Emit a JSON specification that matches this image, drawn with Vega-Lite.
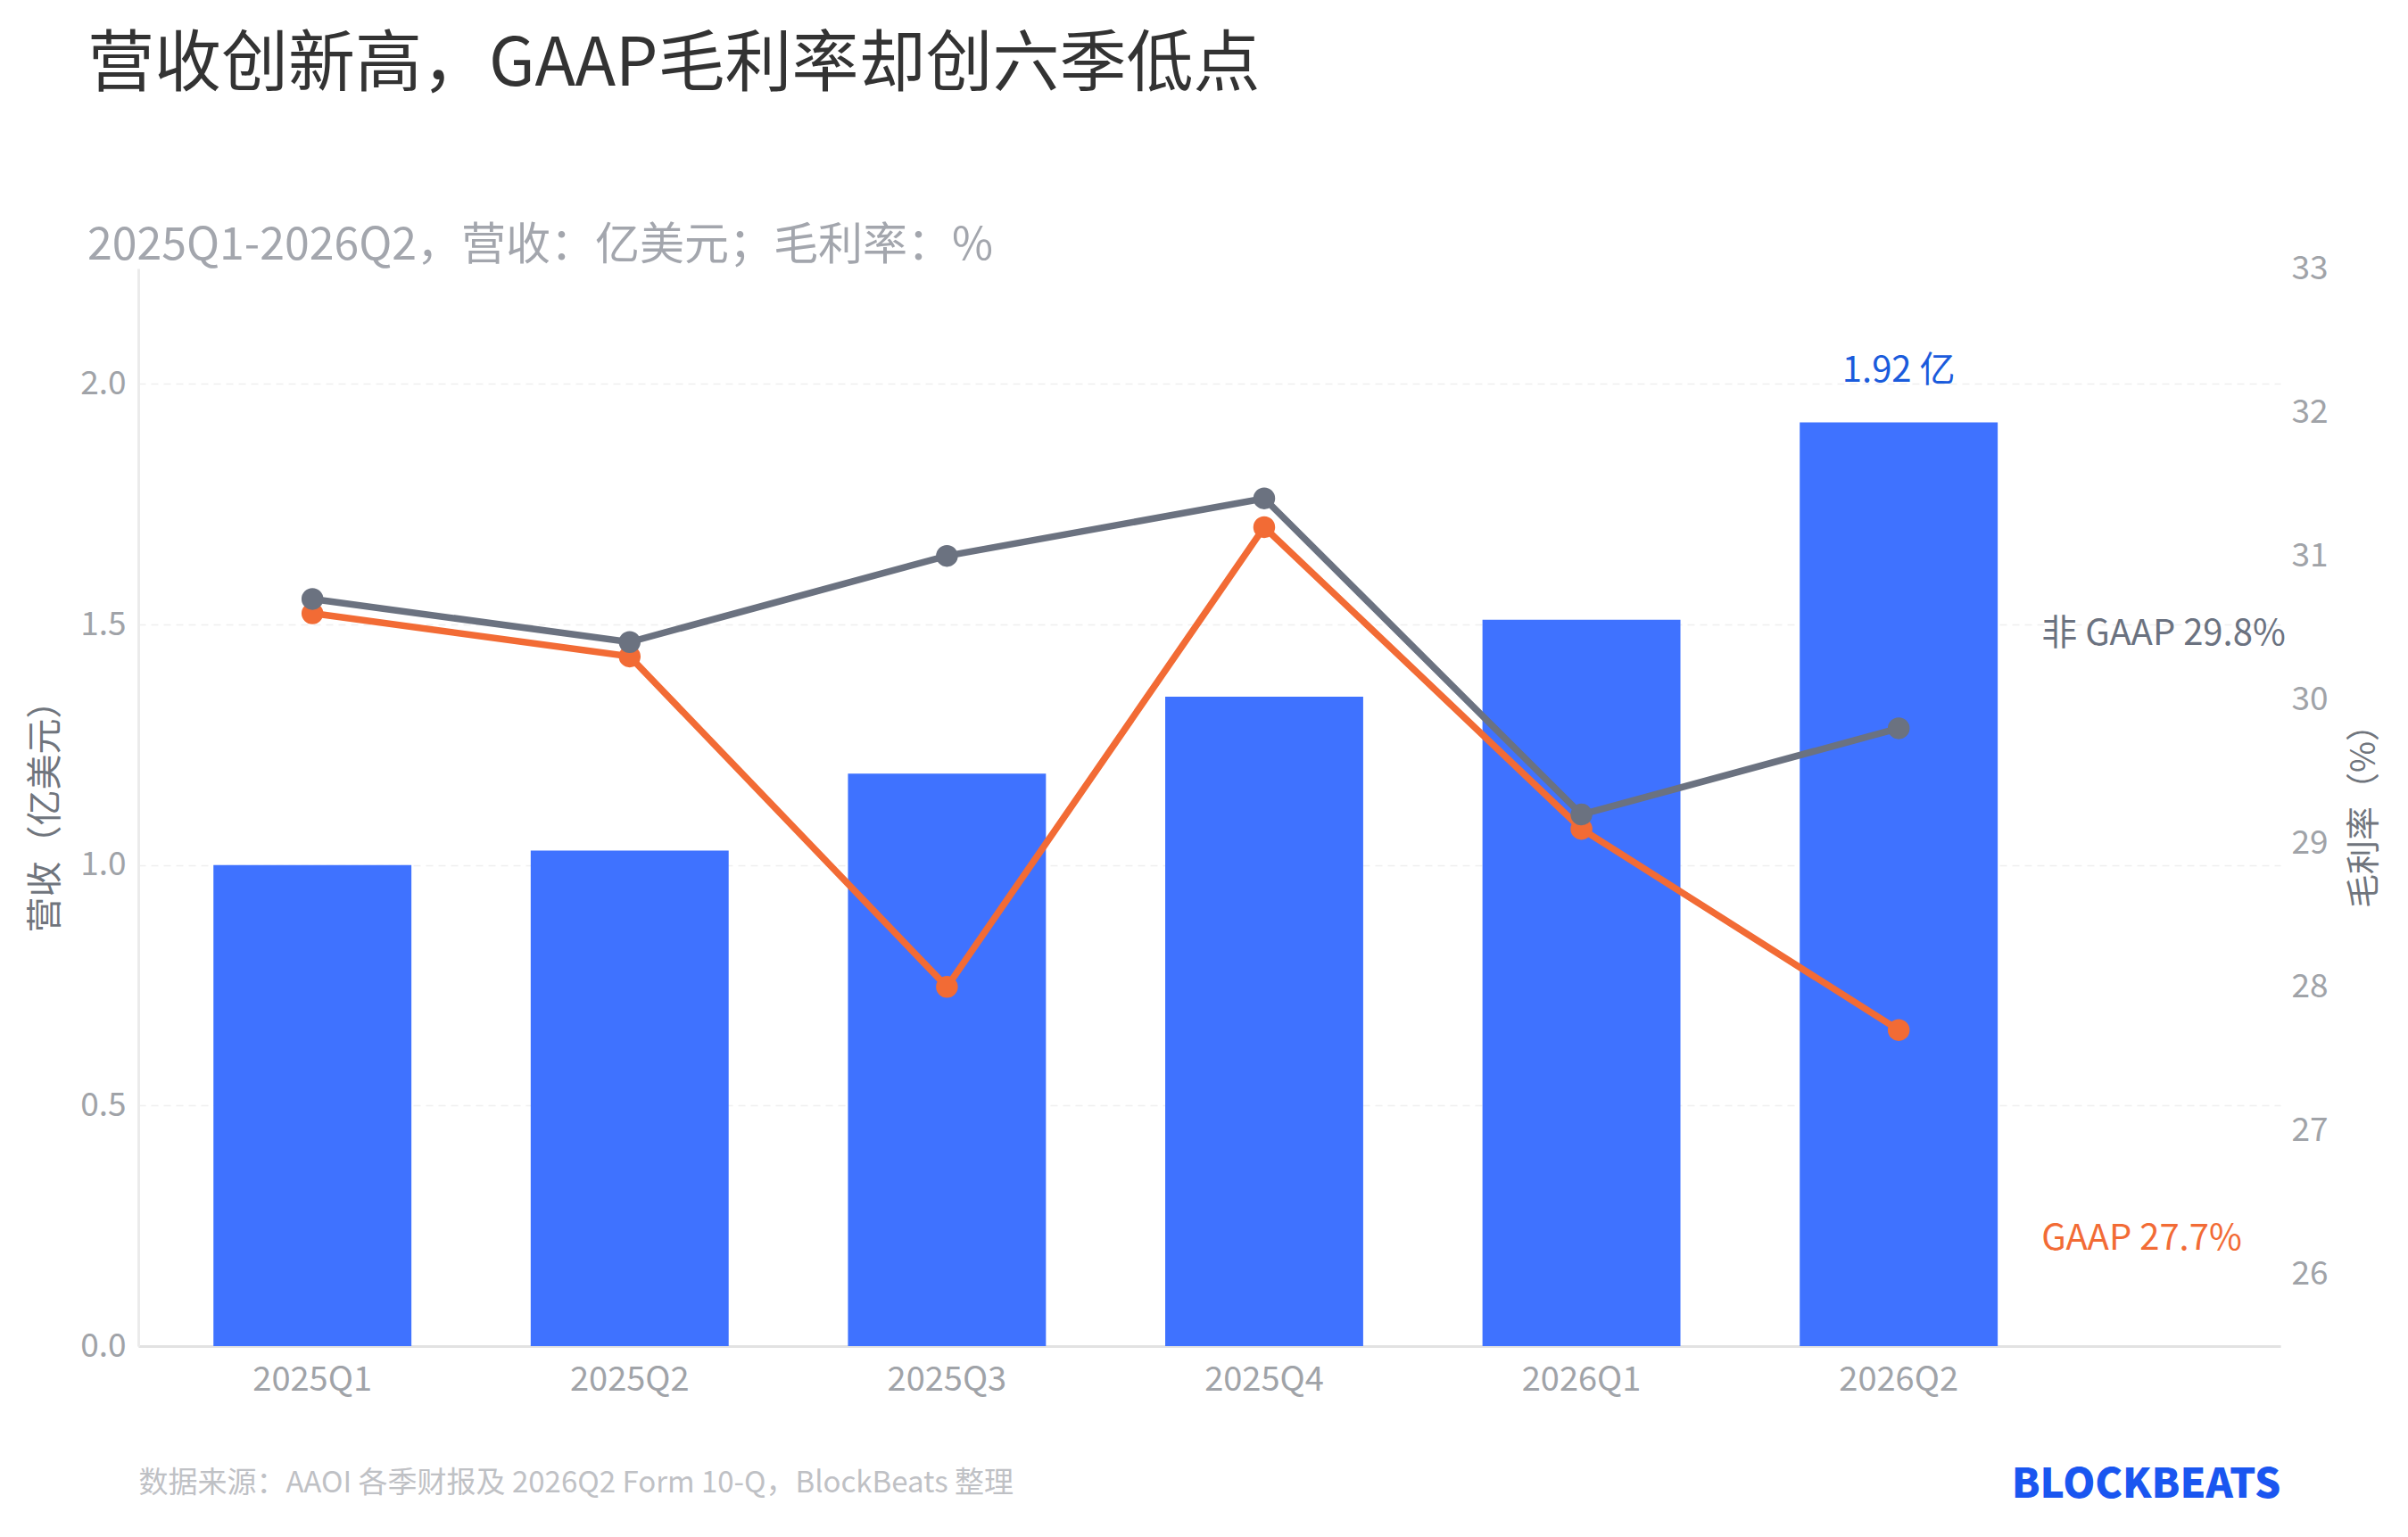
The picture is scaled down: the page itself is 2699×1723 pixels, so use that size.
{
  "$schema": "https://vega.github.io/schema/vega-lite/v6.json",
  "width": 2401,
  "height": 1208,
  "autosize": {"type": "none"},
  "padding": {"left": 155, "top": 301, "right": 143, "bottom": 214},
  "background": "#ffffff",
  "config": {
    "view": {"stroke": null},
    "font": "Noto Sans CJK SC",
    "axis": {"labelFont": "Noto Sans CJK SC", "titleFont": "Noto Sans CJK SC"}
  },
  "title": {
    "text": "营收创新高，GAAP毛利率却创六季低点",
    "subtitle": "2025Q1-2026Q2，营收：亿美元；毛利率：%",
    "anchor": "start",
    "frame": "group",
    "dx": -57,
    "offset": -20,
    "fontSize": 75,
    "fontWeight": "normal",
    "color": "#333333",
    "subtitleFontSize": 50,
    "subtitleColor": "#a3a6ad",
    "subtitlePadding": 139,
    "font": "Noto Sans CJK SC",
    "subtitleFont": "Noto Sans CJK SC"
  },
  "datasets": {
    "revenue": [
      {"quarter": "2025Q1", "revenue": 1.00},
      {"quarter": "2025Q2", "revenue": 1.03},
      {"quarter": "2025Q3", "revenue": 1.19},
      {"quarter": "2025Q4", "revenue": 1.35},
      {"quarter": "2026Q1", "revenue": 1.51},
      {"quarter": "2026Q2", "revenue": 1.92}
    ],
    "barLabels": [
      {"quarter": "2026Q2", "revenue": 1.92, "label": "1.92 亿"}
    ],
    "margins": [
      {"quarter": "2025Q1", "series": "GAAP", "margin": 30.6},
      {"quarter": "2025Q2", "series": "GAAP", "margin": 30.3},
      {"quarter": "2025Q3", "series": "GAAP", "margin": 28.0},
      {"quarter": "2025Q4", "series": "GAAP", "margin": 31.2},
      {"quarter": "2026Q1", "series": "GAAP", "margin": 29.1},
      {"quarter": "2026Q2", "series": "GAAP", "margin": 27.7},
      {"quarter": "2025Q1", "series": "非 GAAP", "margin": 30.7},
      {"quarter": "2025Q2", "series": "非 GAAP", "margin": 30.4},
      {"quarter": "2025Q3", "series": "非 GAAP", "margin": 31.0},
      {"quarter": "2025Q4", "series": "非 GAAP", "margin": 31.4},
      {"quarter": "2026Q1", "series": "非 GAAP", "margin": 29.2},
      {"quarter": "2026Q2", "series": "非 GAAP", "margin": 29.8}
    ],
    "lineLabels": [
      {"quarter": "2026Q2", "series": "非 GAAP", "margin": 29.8, "label": "非 GAAP 29.8%"},
      {"quarter": "2026Q2", "series": "GAAP", "margin": 27.7, "label": "GAAP 27.7%"}
    ]
  },
  "layer": [
    {
      "layer": [
        {
          "data": {"name": "revenue"},
          "mark": {"type": "bar", "color": "#3f72ff"},
          "encoding": {
            "x": {
              "field": "quarter",
              "type": "nominal",
              "sort": null,
              "scale": {"paddingInner": 0.376, "paddingOuter": 0.564, "align": 0.21},
              "axis": {
                "labelAngle": 0,
                "labelFontSize": 38,
                "labelColor": "#a0a3a8",
                "labelPadding": 19,
                "ticks": false,
                "domain": true,
                "domainColor": "#e2e2e2",
                "domainWidth": 3,
                "grid": false,
                "title": "数据来源：AAOI 各季财报及 2026Q2 Form 10-Q，BlockBeats 整理",
                "titleAnchor": "start",
                "titleAlign": "left",
                "titleFontSize": 33,
                "titleFontWeight": "normal",
                "titleColor": "#bfc1c5",
                "titlePadding": 80
              }
            },
            "y": {
              "field": "revenue",
              "type": "quantitative",
              "scale": {"domain": [0, 2.24], "nice": false, "zero": true},
              "axis": {
                "values": [0, 0.5, 1, 1.5, 2],
                "format": ".1f",
                "labelFontSize": 37,
                "labelColor": "#a0a3a8",
                "labelPadding": 14,
                "ticks": false,
                "domain": true,
                "domainColor": "#ebebeb",
                "domainWidth": 3,
                "grid": true,
                "gridColor": "#efefef",
                "gridDash": [8, 6],
                "gridWidth": 1.5,
                "title": "营收（亿美元）",
                "titleFontSize": 40,
                "titleFontWeight": "normal",
                "titleColor": "#70757d",
                "titlePadding": 18
              }
            }
          }
        },
        {
          "data": {"name": "barLabels"},
          "mark": {"type": "text", "color": "#1a5bdc", "fontSize": 40, "baseline": "alphabetic", "align": "center", "dy": -46},
          "encoding": {
            "x": {"field": "quarter", "type": "nominal", "sort": null},
            "y": {"field": "revenue", "type": "quantitative"},
            "text": {"field": "label"}
          }
        }
      ]
    },
    {
      "layer": [
        {
          "data": {"name": "margins"},
          "mark": {"type": "line", "strokeWidth": 7.5, "point": {"filled": true, "size": 600, "opacity": 1}},
          "encoding": {
            "x": {
              "field": "quarter",
              "type": "nominal",
              "sort": null,
              "axis": {
                "orient": "bottom",
                "labels": false,
                "ticks": false,
                "domain": false,
                "grid": false,
                "title": "BLOCKBEATS",
                "titleAnchor": "end",
                "titleAlign": "right",
                "titleFontSize": 46,
                "titleFontWeight": 900,
                "titleColor": "#1a56f0",
                "titlePadding": 133
              }
            },
            "y": {
              "field": "margin",
              "type": "quantitative",
              "scale": {"domain": [25.5, 33], "nice": false, "zero": false},
              "axis": {
                "orient": "right",
                "values": [26, 27, 28, 29, 30, 31, 32, 33],
                "format": "d",
                "labelFontSize": 37,
                "labelColor": "#a0a3a8",
                "labelPadding": 12,
                "ticks": false,
                "domain": false,
                "grid": false,
                "title": "毛利率（%）",
                "titleAngle": -90,
                "titleBaseline": "top",
                "titleFontSize": 38,
                "titleFontWeight": "normal",
                "titleColor": "#70757d",
                "titlePadding": 22
              }
            },
            "color": {
              "field": "series",
              "type": "nominal",
              "scale": {"domain": ["GAAP", "非 GAAP"], "range": ["#f26b35", "#6b7280"]},
              "legend": null
            }
          }
        },
        {
          "data": {"name": "lineLabels"},
          "transform": [{"filter": "datum.series === '非 GAAP'"}],
          "mark": {"type": "text", "fontSize": 40, "align": "left", "baseline": "middle", "dx": 160, "dy": -105},
          "encoding": {
            "x": {"field": "quarter", "type": "nominal", "sort": null},
            "y": {"field": "margin", "type": "quantitative"},
            "text": {"field": "label"},
            "color": {"field": "series", "type": "nominal", "legend": null}
          }
        },
        {
          "data": {"name": "lineLabels"},
          "transform": [{"filter": "datum.series === 'GAAP'"}],
          "mark": {"type": "text", "fontSize": 40, "align": "left", "baseline": "middle", "dx": 160, "dy": 234},
          "encoding": {
            "x": {"field": "quarter", "type": "nominal", "sort": null},
            "y": {"field": "margin", "type": "quantitative"},
            "text": {"field": "label"},
            "color": {"field": "series", "type": "nominal", "legend": null}
          }
        }
      ]
    }
  ],
  "resolve": {"scale": {"y": "independent"}, "axis": {"x": "independent"}}
}
